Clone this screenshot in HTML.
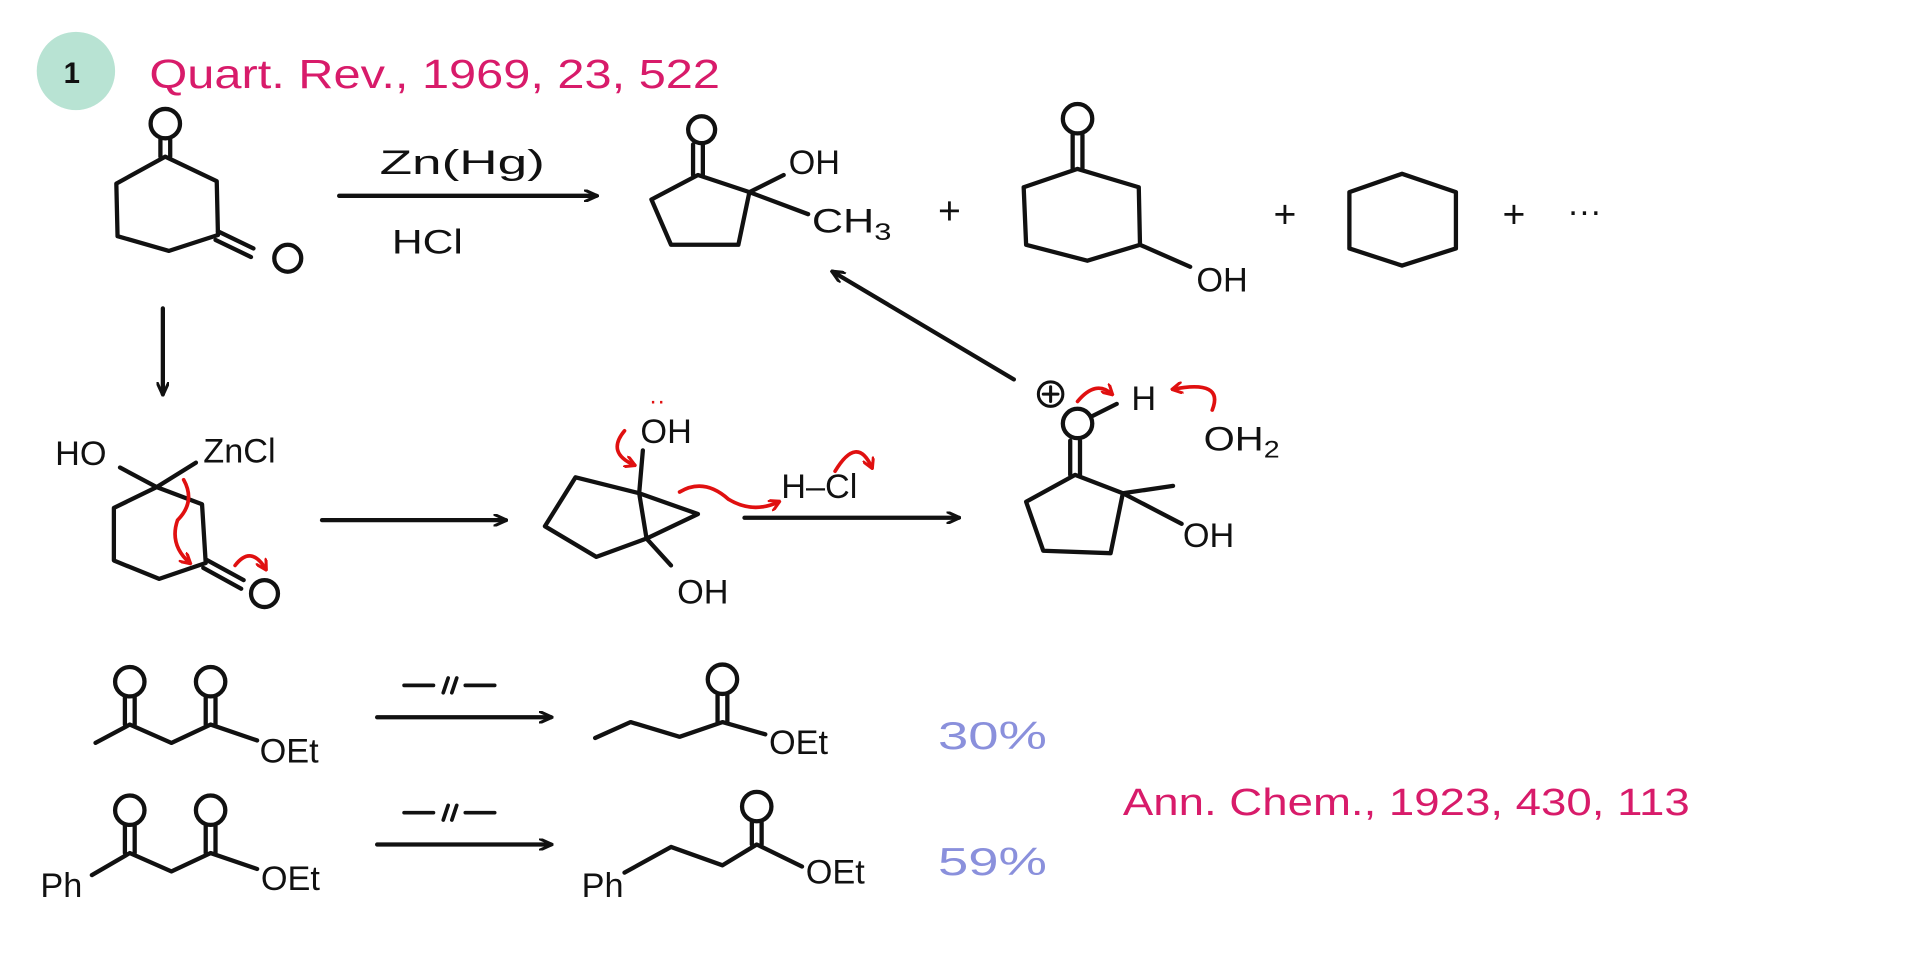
<!DOCTYPE html>
<html><head><meta charset="utf-8"><style>
html,body{margin:0;padding:0;background:#fff;}
svg{display:block;}
text{font-family:"Liberation Sans",sans-serif;}
</style></head><body>
<svg width="1920" height="973" viewBox="0 0 1568 795" preserveAspectRatio="none" xmlns="http://www.w3.org/2000/svg">
<defs>
<marker id="a" markerWidth="12" markerHeight="10" refX="10" refY="5" orient="auto" markerUnits="userSpaceOnUse"><path d="M0,0 L11,5 L0,10" fill="none" stroke="#111" stroke-width="2.5"/></marker>
<marker id="r" markerWidth="10" markerHeight="10" refX="8" refY="5" orient="auto" markerUnits="userSpaceOnUse"><path d="M0,0 L9,5 L0,10" fill="none" stroke="#e01010" stroke-width="2.5"/></marker>
</defs>
<g fill="none" stroke="#111" stroke-width="3.5" stroke-linecap="round" stroke-linejoin="round">
<circle cx="62" cy="58" r="32" fill="#b8e3d3" stroke="none"/>
<path d="M135,128 L177,148 L178,192 L138,205 L96,193 L95,150 Z"/>
<path d="M131,128 L131,114 M139,128 L139,114"/>
<circle cx="135" cy="101" r="12"/>
<path d="M178,189 L207,203 M176,196 L205,210"/>
<circle cx="235" cy="211" r="11"/>
<path d="M277,160 L487,160" marker-end="url(#a)"/>
<path d="M570,143 L612,157 L603,200 L548,200 L532,163 Z"/>
<path d="M566,143 L566,118 M574,143 L574,118"/>
<circle cx="573" cy="106" r="11"/>
<path d="M612,157 L640,143 M612,157 L660,175"/>
<path d="M880,138 L930,153 L931,200 L888,213 L838,200 L836,153 Z"/>
<path d="M876,138 L876,110 M884,138 L884,110"/>
<circle cx="880" cy="97" r="12"/>
<path d="M931,200 L972,218"/>
<path d="M1145,142 L1189,157 L1189,203 L1145,217 L1102,203 L1102,157 Z"/>
<path d="M828,310 L680,222" marker-end="url(#a)"/>
<path d="M133,252 L133,322" marker-end="url(#a)"/>
<path d="M128,398 L165,412 L168,460 L130,473 L93,458 L93,415 Z"/>
<path d="M128,398 L98,382 M128,398 L160,378"/>
<path d="M168,457 L199,474 M166,464 L197,481"/>
<circle cx="216" cy="485" r="11"/>
<path d="M263,425 L413,425" marker-end="url(#a)"/>
<path d="M522,403 L528,440 L487,455 L445,430 L470,390 Z"/>
<path d="M522,403 L570,420 L528,440"/>
<path d="M522,403 L525,368 M528,440 L548,462"/>
<path d="M608,423 L783,423" marker-end="url(#a)"/>
<path d="M878,388 L917,403 L907,452 L852,450 L838,410 Z"/>
<path d="M874,388 L874,360 M882,388 L882,360"/>
<circle cx="880" cy="346" r="12"/>
<path d="M892,340 L912,330"/>
<path d="M917,403 L958,397 M917,403 L965,428"/>
<circle cx="858" cy="322" r="10" stroke-width="2.5"/>
<path d="M852,322 L864,322 M858,316 L858,328" stroke-width="2.5"/>
<path d="M78,607 L106,592 L140,607 L172,592 L210,605"/>
<path d="M102,592 L102,570 M110,592 L110,570 M168,592 L168,570 M176,592 L176,570"/>
<circle cx="106" cy="557" r="12"/><circle cx="172" cy="557" r="12"/>
<path d="M308,586 L450,586" marker-end="url(#a)"/>
<path d="M330,560 L354,560 M362,566 L366,554 M369,566 L373,554 M380,560 L404,560" stroke-width="3"/>
<path d="M486,603 L515,590 L555,602 L590,590 L625,600"/>
<path d="M586,590 L586,568 M594,590 L594,568"/>
<circle cx="590" cy="555" r="12"/>
<path d="M75,715 L106,697 L140,712 L172,697 L210,710"/>
<path d="M102,697 L102,675 M110,697 L110,675 M168,697 L168,675 M176,697 L176,675"/>
<circle cx="106" cy="662" r="12"/><circle cx="172" cy="662" r="12"/>
<path d="M308,690 L450,690" marker-end="url(#a)"/>
<path d="M330,664 L354,664 M362,670 L366,658 M369,670 L373,658 M380,664 L404,664" stroke-width="3"/>
<path d="M510,713 L548,692 L590,707 L618,690 L655,708"/>
<path d="M614,690 L614,672 M622,690 L622,672"/>
<circle cx="618" cy="659" r="12"/>
</g>
<g fill="none" stroke="#e01010" stroke-width="3" stroke-linecap="round">
<path d="M150,392 Q160,410 145,425 Q138,445 155,460" marker-end="url(#r)"/>
<path d="M192,462 Q205,445 217,465" marker-end="url(#r)"/>
<path d="M510,352 Q495,370 518,380" marker-end="url(#r)"/>
<path d="M555,402 Q575,390 595,408 Q615,420 636,410" marker-end="url(#r)"/>
<path d="M682,385 Q700,355 712,382" marker-end="url(#r)"/>
<path d="M880,328 Q895,310 908,322" marker-end="url(#r)"/>
<path d="M990,335 Q1000,310 958,318" marker-end="url(#r)"/>
</g>
<g fill="#111" font-size="28">
<text x="52" y="68" font-size="24" font-weight="bold">1</text>
<text x="310" y="142" textLength="135" lengthAdjust="spacingAndGlyphs">Zn(Hg)</text>
<text x="320" y="207" textLength="58" lengthAdjust="spacingAndGlyphs">HCl</text>
<text x="644" y="142">OH</text>
<text x="663" y="190" textLength="65" lengthAdjust="spacingAndGlyphs">CH<tspan font-size="20" dy="6">3</tspan></text>
<text x="766" y="183" font-size="32">+</text>
<text x="977" y="238">OH</text>
<text x="1040" y="186" font-size="32">+</text>
<text x="1227" y="186" font-size="32">+</text>
<text x="1280" y="182">···</text>
<text x="45" y="380">HO</text>
<text x="166" y="378">ZnCl</text>
<text x="523" y="362">OH</text>
<text x="530" y="334" font-size="20" fill="#e01010">··</text>
<text x="553" y="493">OH</text>
<text x="638" y="407">H–Cl</text>
<text x="924" y="335">H</text>
<text x="983" y="368" textLength="62" lengthAdjust="spacingAndGlyphs">OH<tspan font-size="20" dy="6">2</tspan></text>
<text x="966" y="447">OH</text>
<text x="212" y="623">OEt</text>
<text x="628" y="616">OEt</text>
<text x="33" y="733">Ph</text>
<text x="213" y="727">OEt</text>
<text x="475" y="733">Ph</text>
<text x="658" y="722">OEt</text>
</g>
<text x="122" y="72" font-size="33" fill="#d81b6a" textLength="466" lengthAdjust="spacingAndGlyphs">Quart. Rev., 1969, 23, 522</text>
<text x="917" y="666" font-size="31" fill="#d81b6a" textLength="463" lengthAdjust="spacingAndGlyphs">Ann. Chem., 1923, 430, 113</text>
<text x="766" y="612" font-size="32" fill="#8a90dc" textLength="89" lengthAdjust="spacingAndGlyphs">30%</text>
<text x="766" y="715" font-size="32" fill="#8a90dc" textLength="89" lengthAdjust="spacingAndGlyphs">59%</text>
</svg>
</body></html>
